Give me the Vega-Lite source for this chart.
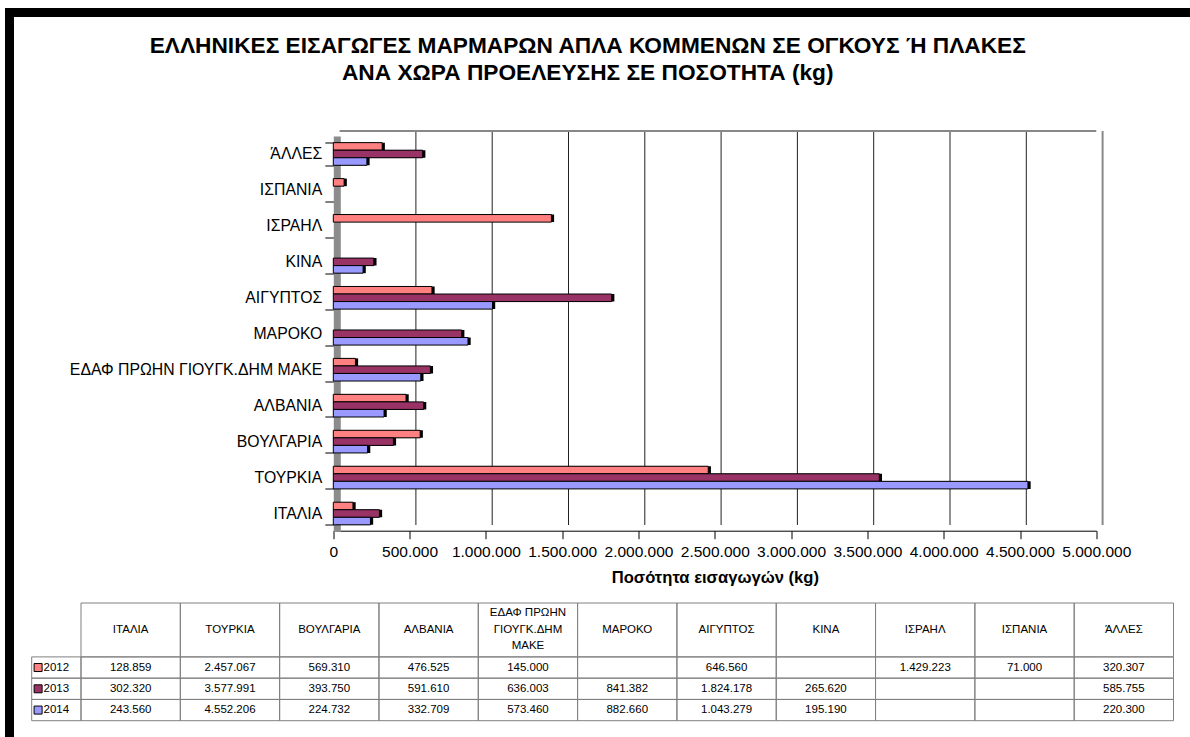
{
  "$schema": "https://vega.github.io/schema/vega-lite/v6.json",
  "width": 1180.5,
  "height": 724.5,
  "autosize": {"type": "none"},
  "padding": {"left": 9.5, "top": 12.5, "right": 0, "bottom": 0},
  "background": "white",
  "config": {
    "font": "Liberation Sans",
    "locale": {"number": {"decimal": ",", "thousands": ".", "grouping": [3], "currency": ["", " €"]}},
    "view": {"stroke": "black", "strokeWidth": 9, "strokeDash": [1180.5, 1905, 724.5, 0], "strokeCap": "square"}
  },
  "title": {
    "text": ["ΕΛΛΗΝΙΚΕΣ ΕΙΣΑΓΩΓΕΣ ΜΑΡΜΑΡΩΝ ΑΠΛΑ ΚΟΜΜΕΝΩΝ ΣΕ ΟΓΚΟΥΣ Ή ΠΛΑΚΕΣ", "ΑΝΑ ΧΩΡΑ ΠΡΟΕΛΕΥΣΗΣ ΣΕ ΠΟΣΟΤΗΤΑ (kg)"],
    "anchor": "middle", "frame": "group", "fontSize": 22.7, "fontWeight": "bold", "lineHeight": 27,
    "offset": -80.5, "dx": -12, "color": "black"
  },
  "datasets": {
    "imports": [
      {"country": "ΙΤΑΛΙΑ", "year": "2012", "value": 128859},
      {"country": "ΙΤΑΛΙΑ", "year": "2013", "value": 302320},
      {"country": "ΙΤΑΛΙΑ", "year": "2014", "value": 243560},
      {"country": "ΤΟΥΡΚΙΑ", "year": "2012", "value": 2457067},
      {"country": "ΤΟΥΡΚΙΑ", "year": "2013", "value": 3577991},
      {"country": "ΤΟΥΡΚΙΑ", "year": "2014", "value": 4552206},
      {"country": "ΒΟΥΛΓΑΡΙΑ", "year": "2012", "value": 569310},
      {"country": "ΒΟΥΛΓΑΡΙΑ", "year": "2013", "value": 393750},
      {"country": "ΒΟΥΛΓΑΡΙΑ", "year": "2014", "value": 224732},
      {"country": "ΑΛΒΑΝΙΑ", "year": "2012", "value": 476525},
      {"country": "ΑΛΒΑΝΙΑ", "year": "2013", "value": 591610},
      {"country": "ΑΛΒΑΝΙΑ", "year": "2014", "value": 332709},
      {"country": "ΕΔΑΦ ΠΡΩΗΝ ΓΙΟΥΓΚ.ΔΗΜ ΜΑΚΕ", "year": "2012", "value": 145000},
      {"country": "ΕΔΑΦ ΠΡΩΗΝ ΓΙΟΥΓΚ.ΔΗΜ ΜΑΚΕ", "year": "2013", "value": 636003},
      {"country": "ΕΔΑΦ ΠΡΩΗΝ ΓΙΟΥΓΚ.ΔΗΜ ΜΑΚΕ", "year": "2014", "value": 573460},
      {"country": "ΜΑΡΟΚΟ", "year": "2012", "value": null},
      {"country": "ΜΑΡΟΚΟ", "year": "2013", "value": 841382},
      {"country": "ΜΑΡΟΚΟ", "year": "2014", "value": 882660},
      {"country": "ΑΙΓΥΠΤΟΣ", "year": "2012", "value": 646560},
      {"country": "ΑΙΓΥΠΤΟΣ", "year": "2013", "value": 1824178},
      {"country": "ΑΙΓΥΠΤΟΣ", "year": "2014", "value": 1043279},
      {"country": "ΚΙΝΑ", "year": "2012", "value": null},
      {"country": "ΚΙΝΑ", "year": "2013", "value": 265620},
      {"country": "ΚΙΝΑ", "year": "2014", "value": 195190},
      {"country": "ΙΣΡΑΗΛ", "year": "2012", "value": 1429223},
      {"country": "ΙΣΡΑΗΛ", "year": "2013", "value": null},
      {"country": "ΙΣΡΑΗΛ", "year": "2014", "value": null},
      {"country": "ΙΣΠΑΝΙΑ", "year": "2012", "value": 71000},
      {"country": "ΙΣΠΑΝΙΑ", "year": "2013", "value": null},
      {"country": "ΙΣΠΑΝΙΑ", "year": "2014", "value": null},
      {"country": "ΆΛΛΕΣ", "year": "2012", "value": 320307},
      {"country": "ΆΛΛΕΣ", "year": "2013", "value": 585755},
      {"country": "ΆΛΛΕΣ", "year": "2014", "value": 220300}
    ],
    "headers": [
      {"country": "ΙΤΑΛΙΑ", "label": "ΙΤΑΛΙΑ", "lines": 1},
      {"country": "ΤΟΥΡΚΙΑ", "label": "ΤΟΥΡΚΙΑ", "lines": 1},
      {"country": "ΒΟΥΛΓΑΡΙΑ", "label": "ΒΟΥΛΓΑΡΙΑ", "lines": 1},
      {"country": "ΑΛΒΑΝΙΑ", "label": "ΑΛΒΑΝΙΑ", "lines": 1},
      {"country": "ΕΔΑΦ ΠΡΩΗΝ ΓΙΟΥΓΚ.ΔΗΜ ΜΑΚΕ", "label": "ΕΔΑΦ ΠΡΩΗΝ\nΓΙΟΥΓΚ.ΔΗΜ\nΜΑΚΕ", "lines": 3},
      {"country": "ΜΑΡΟΚΟ", "label": "ΜΑΡΟΚΟ", "lines": 1},
      {"country": "ΑΙΓΥΠΤΟΣ", "label": "ΑΙΓΥΠΤΟΣ", "lines": 1},
      {"country": "ΚΙΝΑ", "label": "ΚΙΝΑ", "lines": 1},
      {"country": "ΙΣΡΑΗΛ", "label": "ΙΣΡΑΗΛ", "lines": 1},
      {"country": "ΙΣΠΑΝΙΑ", "label": "ΙΣΠΑΝΙΑ", "lines": 1},
      {"country": "ΆΛΛΕΣ", "label": "ΆΛΛΕΣ", "lines": 1}
    ],
    "years": [{"year": "2012"}, {"year": "2013"}, {"year": "2014"}],
    "gridticks": [
      {"tick": 500000}, {"tick": 1000000}, {"tick": 1500000}, {"tick": 2000000}, {"tick": 2500000},
      {"tick": 3000000}, {"tick": 3500000}, {"tick": 4000000}, {"tick": 4500000}
    ],
    "one": [{}]
  },
  "layer": [
    {
      "data": {"name": "gridticks"},
      "mark": {"type": "rule", "color": "#222222", "strokeWidth": 1, "xOffset": 6.3},
      "encoding": {
        "x": {"field": "tick", "type": "quantitative", "scale": {"domain": [0, 5000000], "range": [323.8, 1086.8], "nice": false, "zero": false}, "axis": null},
        "y": {"datum": 0, "type": "quantitative", "scale": {"domain": [0, 1], "range": [512.5, 118.5]}, "axis": null},
        "y2": {"datum": 1}
      }
    },
    {
      "data": {"name": "one"},
      "mark": {"type": "rule", "color": "#888888", "strokeWidth": 2, "xOffset": 6.3},
      "encoding": {
        "x": {"datum": 0, "type": "quantitative", "scale": {"domain": [0, 5000000], "range": [323.8, 1086.8], "nice": false, "zero": false}, "axis": null},
        "x2": {"datum": 5000000},
        "y": {"datum": 1, "type": "quantitative", "scale": {"domain": [0, 1], "range": [512.5, 118.5]}, "axis": null}
      }
    },
    {
      "data": {"name": "one"},
      "mark": {"type": "rule", "color": "#888888", "strokeWidth": 2, "xOffset": 6.3},
      "encoding": {
        "x": {"datum": 5000000, "type": "quantitative", "scale": {"domain": [0, 5000000], "range": [323.8, 1086.8], "nice": false, "zero": false}, "axis": null},
        "y": {"datum": 0, "type": "quantitative", "scale": {"domain": [0, 1], "range": [512.5, 118.5]}, "axis": null},
        "y2": {"datum": 1}
      }
    },
    {
      "data": {"name": "imports"},
      "mark": {"type": "bar", "color": "#000000", "xOffset": 2.7, "yOffset": -2.7},
      "encoding": {
        "y": {"field": "country", "type": "nominal", "scale": {"type": "band", "domain": ["ΆΛΛΕΣ", "ΙΣΠΑΝΙΑ", "ΙΣΡΑΗΛ", "ΚΙΝΑ", "ΑΙΓΥΠΤΟΣ", "ΜΑΡΟΚΟ", "ΕΔΑΦ ΠΡΩΗΝ ΓΙΟΥΓΚ.ΔΗΜ ΜΑΚΕ", "ΑΛΒΑΝΙΑ", "ΒΟΥΛΓΑΡΙΑ", "ΤΟΥΡΚΙΑ", "ΙΤΑΛΙΑ"], "range": [123.5, 519], "paddingInner": 0.37, "paddingOuter": 0.185}, "axis": null},
        "yOffset": {"field": "year", "type": "nominal", "scale": {"domain": ["2012", "2013", "2014"], "paddingInner": 0, "paddingOuter": 0}},
        "x": {"field": "value", "type": "quantitative", "scale": {"domain": [0, 5000000], "range": [323.8, 1086.8], "nice": false, "zero": false}, "axis": null}
      }
    },
    {
      "data": {"name": "imports"},
      "mark": {"type": "bar", "stroke": "#000000", "strokeWidth": 1},
      "encoding": {
        "y": {"field": "country", "type": "nominal", "scale": {"type": "band", "domain": ["ΆΛΛΕΣ", "ΙΣΠΑΝΙΑ", "ΙΣΡΑΗΛ", "ΚΙΝΑ", "ΑΙΓΥΠΤΟΣ", "ΜΑΡΟΚΟ", "ΕΔΑΦ ΠΡΩΗΝ ΓΙΟΥΓΚ.ΔΗΜ ΜΑΚΕ", "ΑΛΒΑΝΙΑ", "ΒΟΥΛΓΑΡΙΑ", "ΤΟΥΡΚΙΑ", "ΙΤΑΛΙΑ"], "range": [123.5, 519], "paddingInner": 0.37, "paddingOuter": 0.185},
          "axis": {"orient": "left", "offset": -327.3, "title": null, "tickBand": "extent", "tickSize": 12, "tickColor": "#000000", "domainColor": "#8c8c8c", "domainWidth": 7, "labelFontSize": 15.8, "labelColor": "#000000", "labelPadding": 3, "labelLimit": 400}},
        "yOffset": {"field": "year", "type": "nominal", "scale": {"domain": ["2012", "2013", "2014"], "paddingInner": 0, "paddingOuter": 0}},
        "x": {"field": "value", "type": "quantitative", "scale": {"domain": [0, 5000000], "range": [323.8, 1086.8], "nice": false, "zero": false},
          "axis": {"orient": "bottom", "offset": -206.3, "values": [0, 500000, 1000000, 1500000, 2000000, 2500000, 3000000, 3500000, 4000000, 4500000, 5000000], "format": ",d", "grid": false, "tickSize": 8, "tickColor": "#000000", "domainColor": "#000000", "labelPadding": 6, "labelFontSize": 15.5, "labelColor": "#000000", "labelOverlap": false, "labelFlush": false, "title": "Ποσότητα εισαγωγών (kg)", "titleFontSize": 16.6, "titleFontWeight": "bold", "titleColor": "#000000", "titlePadding": 9}},
        "color": {"field": "year", "type": "nominal", "scale": {"domain": ["2012", "2013", "2014"], "range": ["#FF8080", "#993366", "#9999FF"]}, "legend": null}
      }
    },
    {
      "data": {"name": "imports"},
      "mark": {"type": "rect", "fill": "transparent", "stroke": "#808080", "strokeWidth": 1},
      "encoding": {
        "x": {"field": "country", "type": "nominal", "scale": {"type": "band", "domain": ["ΙΤΑΛΙΑ", "ΤΟΥΡΚΙΑ", "ΒΟΥΛΓΑΡΙΑ", "ΑΛΒΑΝΙΑ", "ΕΔΑΦ ΠΡΩΗΝ ΓΙΟΥΓΚ.ΔΗΜ ΜΑΚΕ", "ΜΑΡΟΚΟ", "ΑΙΓΥΠΤΟΣ", "ΚΙΝΑ", "ΙΣΡΑΗΛ", "ΙΣΠΑΝΙΑ", "ΆΛΛΕΣ"], "range": [71.5, 1164], "paddingInner": 0, "paddingOuter": 0}, "axis": null},
        "y": {"field": "year", "type": "nominal", "scale": {"type": "band", "domain": ["2012", "2013", "2014"], "range": [644.4, 708.2], "paddingInner": 0, "paddingOuter": 0}, "axis": null}
      }
    },
    {
      "data": {"name": "imports"},
      "transform": [{"filter": "isValid(datum.value)"}],
      "mark": {"type": "text", "fontSize": 11.5, "color": "#000000"},
      "encoding": {
        "x": {"field": "country", "type": "nominal", "scale": {"type": "band", "domain": ["ΙΤΑΛΙΑ", "ΤΟΥΡΚΙΑ", "ΒΟΥΛΓΑΡΙΑ", "ΑΛΒΑΝΙΑ", "ΕΔΑΦ ΠΡΩΗΝ ΓΙΟΥΓΚ.ΔΗΜ ΜΑΚΕ", "ΜΑΡΟΚΟ", "ΑΙΓΥΠΤΟΣ", "ΚΙΝΑ", "ΙΣΡΑΗΛ", "ΙΣΠΑΝΙΑ", "ΆΛΛΕΣ"], "range": [71.5, 1164], "paddingInner": 0, "paddingOuter": 0}, "axis": null},
        "y": {"field": "year", "type": "nominal", "scale": {"type": "band", "domain": ["2012", "2013", "2014"], "range": [644.4, 708.2], "paddingInner": 0, "paddingOuter": 0}, "axis": null},
        "text": {"field": "value", "type": "quantitative", "format": ",d"}
      }
    },
    {
      "data": {"name": "headers"},
      "mark": {"type": "rect", "fill": "transparent", "stroke": "#808080", "strokeWidth": 1},
      "encoding": {
        "x": {"field": "country", "type": "nominal", "scale": {"type": "band", "domain": ["ΙΤΑΛΙΑ", "ΤΟΥΡΚΙΑ", "ΒΟΥΛΓΑΡΙΑ", "ΑΛΒΑΝΙΑ", "ΕΔΑΦ ΠΡΩΗΝ ΓΙΟΥΓΚ.ΔΗΜ ΜΑΚΕ", "ΜΑΡΟΚΟ", "ΑΙΓΥΠΤΟΣ", "ΚΙΝΑ", "ΙΣΡΑΗΛ", "ΙΣΠΑΝΙΑ", "ΆΛΛΕΣ"], "range": [71.5, 1164], "paddingInner": 0, "paddingOuter": 0}, "axis": null},
        "y": {"datum": "header", "type": "nominal", "scale": {"type": "band", "domain": ["header"], "range": [590.5, 644.4], "paddingInner": 0, "paddingOuter": 0}, "axis": null}
      }
    },
    {
      "data": {"name": "headers"},
      "transform": [{"filter": "datum.lines == 1"}],
      "mark": {"type": "text", "fontSize": 11.5, "color": "#000000"},
      "encoding": {
        "x": {"field": "country", "type": "nominal", "scale": {"type": "band", "domain": ["ΙΤΑΛΙΑ", "ΤΟΥΡΚΙΑ", "ΒΟΥΛΓΑΡΙΑ", "ΑΛΒΑΝΙΑ", "ΕΔΑΦ ΠΡΩΗΝ ΓΙΟΥΓΚ.ΔΗΜ ΜΑΚΕ", "ΜΑΡΟΚΟ", "ΑΙΓΥΠΤΟΣ", "ΚΙΝΑ", "ΙΣΡΑΗΛ", "ΙΣΠΑΝΙΑ", "ΆΛΛΕΣ"], "range": [71.5, 1164], "paddingInner": 0, "paddingOuter": 0}, "axis": null},
        "y": {"datum": "header", "type": "nominal", "scale": {"type": "band", "domain": ["header"], "range": [590.5, 644.4], "paddingInner": 0, "paddingOuter": 0}, "axis": null},
        "text": {"field": "label", "type": "nominal"}
      }
    },
    {
      "data": {"name": "headers"},
      "transform": [{"filter": "datum.lines == 3"}],
      "mark": {"type": "text", "fontSize": 11.5, "color": "#000000", "lineBreak": "\n", "lineHeight": 16.5, "dy": -16.5},
      "encoding": {
        "x": {"field": "country", "type": "nominal", "scale": {"type": "band", "domain": ["ΙΤΑΛΙΑ", "ΤΟΥΡΚΙΑ", "ΒΟΥΛΓΑΡΙΑ", "ΑΛΒΑΝΙΑ", "ΕΔΑΦ ΠΡΩΗΝ ΓΙΟΥΓΚ.ΔΗΜ ΜΑΚΕ", "ΜΑΡΟΚΟ", "ΑΙΓΥΠΤΟΣ", "ΚΙΝΑ", "ΙΣΡΑΗΛ", "ΙΣΠΑΝΙΑ", "ΆΛΛΕΣ"], "range": [71.5, 1164], "paddingInner": 0, "paddingOuter": 0}, "axis": null},
        "y": {"datum": "header", "type": "nominal", "scale": {"type": "band", "domain": ["header"], "range": [590.5, 644.4], "paddingInner": 0, "paddingOuter": 0}, "axis": null},
        "text": {"field": "label", "type": "nominal"}
      }
    },
    {
      "data": {"name": "years"},
      "mark": {"type": "rect", "fill": "transparent", "stroke": "#808080", "strokeWidth": 1},
      "encoding": {
        "x": {"datum": "legend", "type": "nominal", "scale": {"type": "band", "domain": ["legend"], "range": [22.2, 71.5], "paddingInner": 0, "paddingOuter": 0}, "axis": null},
        "y": {"field": "year", "type": "nominal", "scale": {"type": "band", "domain": ["2012", "2013", "2014"], "range": [644.4, 708.2], "paddingInner": 0, "paddingOuter": 0}, "axis": null}
      }
    },
    {
      "data": {"name": "years"},
      "mark": {"type": "point", "shape": "square", "filled": true, "size": 64, "opacity": 1, "stroke": "#000000", "strokeWidth": 1},
      "encoding": {
        "x": {"datum": "legend", "type": "nominal", "bandPosition": 0.13, "scale": {"type": "band", "domain": ["legend"], "range": [22.2, 71.5], "paddingInner": 0, "paddingOuter": 0}, "axis": null},
        "y": {"field": "year", "type": "nominal", "scale": {"type": "band", "domain": ["2012", "2013", "2014"], "range": [644.4, 708.2], "paddingInner": 0, "paddingOuter": 0}, "axis": null},
        "color": {"field": "year", "type": "nominal", "scale": {"domain": ["2012", "2013", "2014"], "range": ["#FF8080", "#993366", "#9999FF"]}, "legend": null}
      }
    },
    {
      "data": {"name": "years"},
      "mark": {"type": "text", "fontSize": 11.5, "color": "#000000", "align": "left"},
      "encoding": {
        "x": {"datum": "legend", "type": "nominal", "bandPosition": 0.24, "scale": {"type": "band", "domain": ["legend"], "range": [22.2, 71.5], "paddingInner": 0, "paddingOuter": 0}, "axis": null},
        "y": {"field": "year", "type": "nominal", "scale": {"type": "band", "domain": ["2012", "2013", "2014"], "range": [644.4, 708.2], "paddingInner": 0, "paddingOuter": 0}, "axis": null},
        "text": {"field": "year", "type": "nominal"}
      }
    }
  ],
  "resolve": {"scale": {"x": "independent", "y": "independent"}}
}
